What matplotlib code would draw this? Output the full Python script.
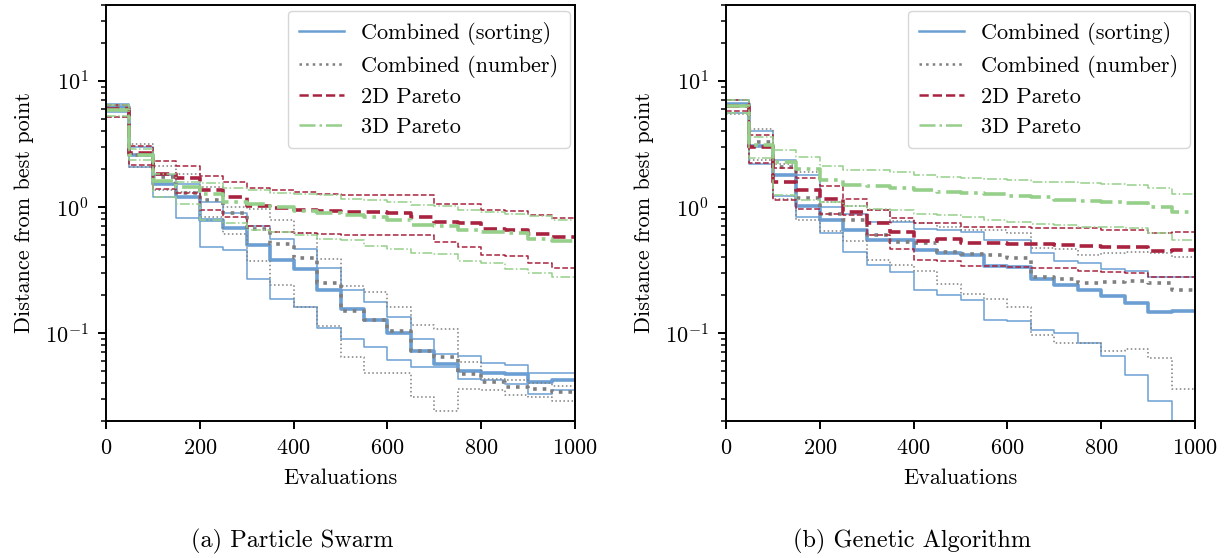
import numpy as np
import matplotlib
matplotlib.use("Agg")
import matplotlib.pyplot as plt

plt.rcParams['font.family'] = 'serif'
plt.rcParams['font.serif'] = ['cmr10', 'DejaVu Serif']
plt.rcParams['mathtext.fontset'] = 'cm'
plt.rcParams['axes.formatter.use_mathtext'] = True
plt.rcParams['axes.unicode_minus'] = False
plt.rcParams['font.size'] = 16
plt.rcParams['axes.linewidth'] = 1.4
plt.rcParams['xtick.major.width'] = 1.4
plt.rcParams['ytick.major.width'] = 1.4
plt.rcParams['xtick.major.size'] = 6
plt.rcParams['ytick.major.size'] = 6
plt.rcParams['ytick.minor.width'] = 1.1
plt.rcParams['ytick.minor.size'] = 3.5
plt.rcParams['xtick.major.pad'] = 6.5
plt.rcParams['ytick.major.pad'] = 6.5
plt.rcParams['axes.labelpad'] = 7.5

# evaluation steps (interval edges)
evals = list(range(0, 1001, 50))

# Particle swarm: median, upper, lower per 50-evaluation interval
ps_sort_med = [6.15, 2.6, 1.53, 1.2, 0.79, 0.68, 0.5, 0.38, 0.32, 0.22, 0.155, 0.126, 0.099, 0.072, 0.057, 0.05, 0.048, 0.047, 0.041, 0.042]
ps_sort_hi = [6.5, 2.98, 1.78, 1.53, 1.1, 0.9, 0.71, 0.56, 0.46, 0.33, 0.22, 0.175, 0.135, 0.09, 0.068, 0.066, 0.058, 0.056, 0.048, 0.048]
ps_sort_lo = [5.7, 2.09, 1.2, 0.82, 0.48, 0.455, 0.27, 0.185, 0.16, 0.11, 0.09, 0.078, 0.061, 0.054, 0.054, 0.043, 0.042, 0.039, 0.033, 0.035]

ps_num_med = [6.1, 2.56, 1.72, 1.29, 1.13, 0.9, 0.67, 0.51, 0.39, 0.25, 0.15, 0.127, 0.104, 0.072, 0.065, 0.047, 0.041, 0.037, 0.036, 0.034]
ps_num_hi = [6.45, 3.16, 2.13, 1.83, 1.44, 0.99, 0.97, 0.785, 0.616, 0.385, 0.234, 0.21, 0.162, 0.116, 0.107, 0.059, 0.043, 0.042, 0.04, 0.038]
ps_num_lo = [5.13, 2.09, 1.35, 1.31, 0.83, 0.61, 0.37, 0.24, 0.16, 0.113, 0.064, 0.048, 0.048, 0.031, 0.024, 0.036, 0.035, 0.032, 0.031, 0.029]

ps_2d_med = [5.95, 2.67, 1.83, 1.7, 1.35, 1.2, 1.01, 0.98, 0.94, 0.92, 0.91, 0.91, 0.9, 0.83, 0.76, 0.75, 0.67, 0.66, 0.61, 0.58]
ps_2d_hi = [6.45, 3.07, 2.3, 2.1, 1.75, 1.59, 1.41, 1.35, 1.31, 1.27, 1.25, 1.25, 1.24, 1.24, 1.05, 1.05, 0.94, 0.93, 0.86, 0.81]
ps_2d_lo = [5.13, 2.17, 1.38, 1.3, 0.94, 0.83, 0.71, 0.635, 0.616, 0.61, 0.6, 0.6, 0.6, 0.6, 0.53, 0.48, 0.415, 0.41, 0.36, 0.33]

ps_3d_med = [5.85, 2.6, 1.62, 1.44, 1.27, 1.1, 1.05, 1.0, 0.93, 0.89, 0.86, 0.83, 0.79, 0.72, 0.71, 0.66, 0.635, 0.616, 0.56, 0.54]
ps_3d_hi = [6.45, 2.89, 1.83, 1.57, 1.55, 1.41, 1.35, 1.29, 1.26, 1.24, 1.16, 1.13, 1.1, 1.03, 1.01, 0.94, 0.91, 0.875, 0.84, 0.785]
ps_3d_lo = [5.3, 2.34, 1.2, 1.05, 0.785, 0.74, 0.655, 0.635, 0.6, 0.56, 0.55, 0.49, 0.46, 0.43, 0.42, 0.37, 0.36, 0.32, 0.3, 0.28]

# Genetic algorithm
ga_sort_med = [6.5, 3.07, 1.78, 1.02, 0.79, 0.66, 0.546, 0.546, 0.455, 0.43, 0.415, 0.34, 0.336, 0.27, 0.24, 0.22, 0.195, 0.173, 0.146, 0.148]
ga_sort_hi = [7.1, 3.98, 2.34, 1.78, 1.0, 0.875, 0.76, 0.76, 0.67, 0.655, 0.635, 0.546, 0.546, 0.43, 0.37, 0.36, 0.32, 0.31, 0.28, 0.28]
ga_sort_lo = [5.6, 2.2, 1.21, 0.83, 0.616, 0.44, 0.346, 0.306, 0.22, 0.2, 0.183, 0.127, 0.124, 0.106, 0.1, 0.083, 0.066, 0.046, 0.029, 0.012]

ga_num_med = [6.3, 3.26, 2.09, 1.18, 0.875, 0.785, 0.6, 0.53, 0.52, 0.44, 0.42, 0.415, 0.39, 0.28, 0.27, 0.25, 0.255, 0.26, 0.25, 0.22]
ga_num_hi = [7.0, 4.15, 2.2, 1.89, 1.1, 1.01, 0.95, 0.77, 0.74, 0.695, 0.655, 0.655, 0.616, 0.47, 0.46, 0.415, 0.43, 0.44, 0.43, 0.4]
ga_num_lo = [5.5, 2.34, 1.16, 0.785, 0.64, 0.535, 0.38, 0.346, 0.31, 0.244, 0.204, 0.186, 0.16, 0.097, 0.083, 0.083, 0.072, 0.074, 0.063, 0.036]

ga_2d_med = [6.3, 2.98, 1.58, 1.35, 1.16, 0.91, 0.75, 0.635, 0.535, 0.56, 0.513, 0.513, 0.51, 0.505, 0.5, 0.49, 0.48, 0.48, 0.45, 0.455]
ga_2d_hi = [7.0, 3.74, 2.04, 1.7, 1.46, 1.16, 0.94, 0.82, 0.74, 0.74, 0.695, 0.695, 0.69, 0.68, 0.675, 0.675, 0.66, 0.655, 0.616, 0.627]
ga_2d_lo = [5.8, 2.22, 1.13, 0.97, 0.875, 0.86, 0.6, 0.46, 0.38, 0.373, 0.34, 0.34, 0.336, 0.33, 0.33, 0.31, 0.306, 0.3, 0.28, 0.28]

ga_3d_med = [6.3, 3.1, 2.27, 2.0, 1.64, 1.48, 1.46, 1.4, 1.37, 1.31, 1.29, 1.27, 1.21, 1.2, 1.14, 1.12, 1.1, 1.07, 1.0, 0.91]
ga_3d_hi = [7.0, 3.57, 2.83, 2.48, 2.13, 1.97, 1.95, 1.89, 1.78, 1.72, 1.7, 1.67, 1.64, 1.57, 1.57, 1.55, 1.53, 1.5, 1.4, 1.27]
ga_3d_lo = [5.6, 2.45, 1.24, 1.13, 1.1, 1.01, 0.97, 0.94, 0.875, 0.86, 0.83, 0.785, 0.76, 0.73, 0.72, 0.695, 0.69, 0.675, 0.616, 0.55]

labels = ['Combined (sorting)', 'Combined (number)', '2D Pareto', '3D Pareto']
colors = ['#6b9fd3', '#7f7f7f', '#a8233f', '#95cf8a']
styles = ['-', ':', '--', '-.']

ps = [(ps_sort_med, ps_sort_hi, ps_sort_lo), (ps_num_med, ps_num_hi, ps_num_lo),
      (ps_2d_med, ps_2d_hi, ps_2d_lo), (ps_3d_med, ps_3d_hi, ps_3d_lo)]
ga = [(ga_sort_med, ga_sort_hi, ga_sort_lo), (ga_num_med, ga_num_hi, ga_num_lo),
      (ga_2d_med, ga_2d_hi, ga_2d_lo), (ga_3d_med, ga_3d_hi, ga_3d_lo)]


def draw(ax, data):
    for (med, hi, lo), lab, c, ls in zip(data, labels, colors, styles):
        ax.step(evals, med + [med[-1]], where='post', color=c, ls=ls, lw=2.6)
        ax.step(evals, hi + [hi[-1]], where='post', color=c, ls=ls, lw=1.1)
        ax.step(evals, lo + [lo[-1]], where='post', color=c, ls=ls, lw=1.1)
        # legend handle
        ax.plot([], [], color=c, ls=ls, lw=1.8, label=lab)
    ax.set_yscale('log')
    ax.set_xlim(0, 1000)
    ax.set_ylim(0.02, 40)
    ax.set_xlabel('Evaluations')
    ax.set_ylabel('Distance from best point')
    ax.legend(loc='upper right', framealpha=0.8, fancybox=True,
              borderaxespad=0.25, labelspacing=0.45, borderpad=0.5)


fig = plt.figure(figsize=(12.28, 5.58), dpi=100)
ax1 = fig.add_axes([0.0863, 0.2455, 0.382, 0.7455])
ax2 = fig.add_axes([0.5912, 0.2455, 0.382, 0.7455])
draw(ax1, ps)
draw(ax2, ga)

fig.text(0.238, 0.029, '(a) Particle Swarm', ha='center', va='center', fontsize=17.5)
fig.text(0.743, 0.029, '(b) Genetic Algorithm', ha='center', va='center', fontsize=17.5)

fig.savefig('out.png', dpi=100)
